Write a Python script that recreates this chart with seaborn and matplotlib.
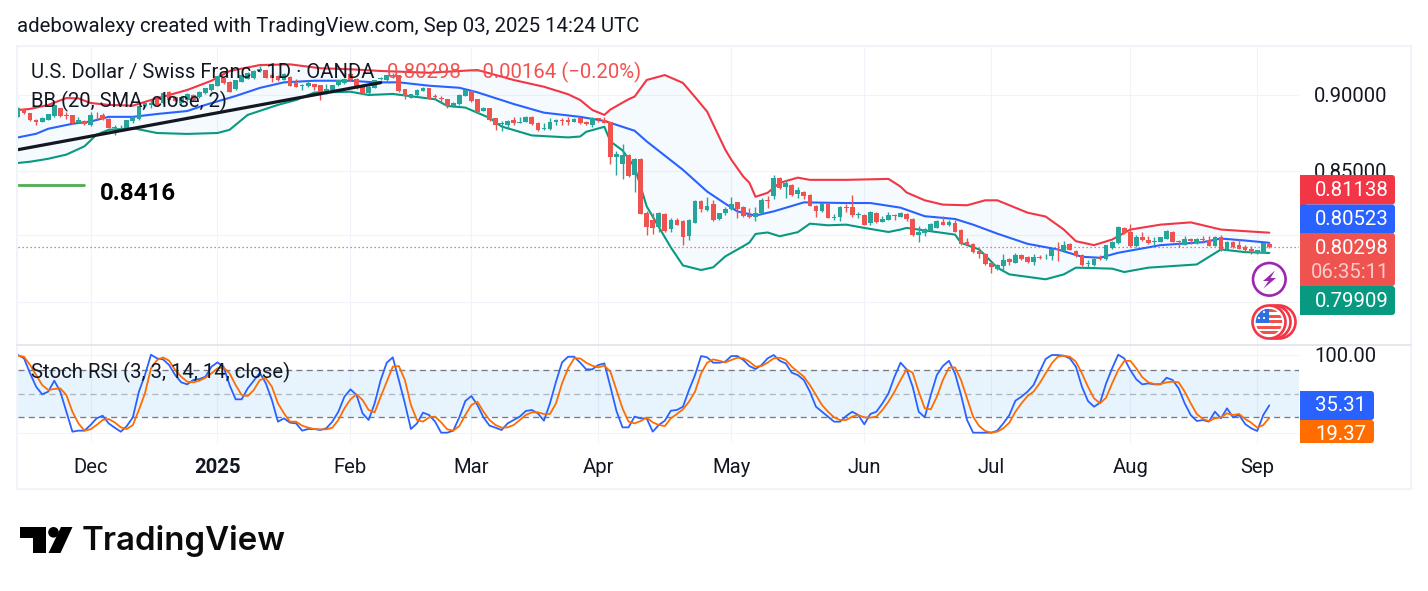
import numpy as np
import pandas as pd
import matplotlib
matplotlib.use("Agg")
import matplotlib.pyplot as plt
from matplotlib.patches import Rectangle, FancyBboxPatch, Circle, Polygon
from matplotlib.ticker import NullFormatter, NullLocator
import seaborn as sns

# Daily USD/CHF candles
opens = [
    .8854, .8905, .8876, .8834, .8820, .8835, .8858, .8910, .8866, .8865,
    .8813, .8827, .8797, .8860, .8867, .8842, .8779, .8775, .8775, .8824,
    .8842, .8925, .8930, .8971, .8944, .9022, .8989, .8944, .8966, .9000,
    .8984, .9011, .9034, .9063, .9119, .9090, .9038, .9090, .9112, .9117,
    .9164, .9169, .9135, .9130, .9105, .9124, .9079, .9063, .9063, .9074,
    .9067, .9011, .9034, .9067, .9079, .9146, .9112, .9056, .9011, .9049,
    .9108, .9101, .9130, .9135, .9038, .8982, .9000, .9029, .9045, .8993,
    .8977, .8971, .8925, .8939, .8995, .9027, .8971, .8893, .8911, .8844,
    .8805, .8800, .8833, .8813, .8822, .8853, .8815, .8774, .8771, .8822,
    .8833, .8833, .8822, .8844, .8818, .8796, .8844, .8833, .8818, .8587,
    .8546, .8605, .8475, .8579, .8233, .8192, .8147, .8227, .8137, .8192,
    .8186, .8091, .8176, .8310, .8255, .8291, .8198, .8233, .8259, .8302,
    .8275, .8223, .8213, .8233, .8316, .8338, .8457, .8400, .8411, .8352,
    .8369, .8348, .8281, .8248, .8291, .8207, .8213, .8273, .8271, .8225,
    .8223, .8176, .8238, .8182, .8193, .8223, .8213, .8230, .8199, .8097,
    .8111, .8127, .8145, .8178, .8162, .8176, .8131, .8060, .8046, .8004,
    .7985, .7933, .7893, .7913, .7955, .7933, .7979, .7969, .7935, .7967,
    .7971, .7975, .8012, .8004, .8046, .8004, .7980, .7924, .7916, .7960,
    .7954, .8020, .8050, .8142, .8121, .8034, .8085, .8070, .8058, .8060,
    .8077, .8121, .8064, .8040, .8077, .8050, .8077, .8070, .8034, .8085,
    .8010, .8060, .8040, .8026, .8014, .7988, .7992, .8045,
]
highs = [
    .8921, .8912, .8878, .8836, .8852, .8875, .8936, .8915, .8887, .8868,
    .8849, .8830, .8887, .8887, .8876, .8845, .8797, .8797, .8835, .8858,
    .8932, .8948, .8966, .8975, .9018, .9029, .8995, .8995, .9012, .9005,
    .9027, .9048, .9078, .9132, .9125, .9096, .9105, .9140, .9157, .9168,
    .9196, .9172, .9150, .9135, .9150, .9128, .9112, .9072, .9101, .9078,
    .9070, .9072, .9071, .9105, .9116, .9150, .9116, .9060, .9060, .9105,
    .9121, .9139, .9153, .9139, .9041, .9008, .9038, .9053, .9049, .9004,
    .8993, .8975, .8952, .9004, .9038, .9031, .8975, .8920, .8915, .8848,
    .8826, .8832, .8851, .8855, .8862, .8858, .8820, .8811, .8844, .8837,
    .8844, .8855, .8848, .8851, .8826, .8855, .8846, .8851, .8822, .8631,
    .8674, .8610, .8583, .8583, .8250, .8238, .8244, .8232, .8203, .8203,
    .8190, .8196, .8314, .8314, .8333, .8316, .8237, .8275, .8333, .8306,
    .8279, .8269, .8271, .8327, .8344, .8474, .8464, .8443, .8415, .8400,
    .8373, .8352, .8285, .8300, .8295, .8227, .8279, .8291, .8348, .8244,
    .8228, .8248, .8242, .8217, .8244, .8226, .8244, .8234, .8203, .8152,
    .8141, .8172, .8192, .8217, .8193, .8193, .8135, .8080, .8050, .8020,
    .7989, .7937, .7923, .7983, .7959, .7993, .7983, .7973, .7985, .7979,
    .7985, .8018, .8060, .8066, .8050, .8008, .7984, .7946, .7960, .7980,
    .8040, .8064, .8152, .8146, .8166, .8097, .8117, .8091, .8089, .8089,
    .8131, .8125, .8070, .8091, .8081, .8081, .8091, .8091, .8091, .8097,
    .8064, .8064, .8074, .8036, .8030, .8010, .8054, .8060,
]
lows = [
    .8850, .8875, .8825, .8799, .8816, .8832, .8855, .8855, .8842, .8804,
    .8809, .8800, .8795, .8835, .8831, .8776, .8734, .8759, .8772, .8815,
    .8831, .8920, .8910, .8928, .8940, .8960, .8958, .8938, .8960, .8960,
    .8980, .9006, .9030, .9060, .9075, .9018, .9034, .9086, .9108, .9112,
    .9160, .9114, .9090, .9098, .9100, .9060, .9052, .9034, .9056, .9034,
    .8966, .9007, .9030, .9063, .9075, .9098, .9041, .9007, .9007, .9045,
    .9102, .9097, .9117, .9023, .8973, .8978, .8996, .9025, .8970, .8973,
    .8955, .8914, .8921, .8935, .8991, .8950, .8876, .8889, .8826, .8767,
    .8761, .8774, .8800, .8809, .8818, .8800, .8760, .8767, .8763, .8800,
    .8800, .8800, .8818, .8807, .8800, .8783, .8818, .8811, .8546, .8475,
    .8450, .8458, .8363, .8227, .8100, .8105, .8121, .8121, .8121, .8158,
    .8040, .8071, .8172, .8240, .8250, .8188, .8194, .8223, .8255, .8207,
    .8213, .8207, .8188, .8227, .8265, .8321, .8386, .8327, .8344, .8331,
    .8321, .8277, .8213, .8244, .8203, .8192, .8186, .8244, .8213, .8203,
    .8158, .8162, .8174, .8178, .8189, .8193, .8209, .8187, .8093, .8060,
    .8094, .8123, .8141, .8158, .8152, .8115, .8040, .8036, .7991, .7959,
    .7921, .7874, .7889, .7889, .7919, .7929, .7949, .7933, .7919, .7953,
    .7955, .7949, .7945, .7995, .8006, .7966, .7912, .7904, .7912, .7946,
    .7946, .8016, .8046, .8107, .8026, .8026, .8064, .8044, .8040, .8056,
    .8073, .8056, .8026, .8036, .8044, .8046, .8050, .8030, .8030, .8004,
    .8006, .8022, .8012, .7996, .7986, .7985, .7990, .8020,
]
closes = [
    .8910, .8880, .8831, .8820, .8847, .8871, .8932, .8858, .8862, .8813,
    .8831, .8804, .8865, .8857, .8842, .8779, .8786, .8781, .8831, .8849,
    .8925, .8944, .8948, .8932, .9015, .8966, .8962, .8989, .9007, .8966,
    .9022, .9045, .9074, .9128, .9079, .9022, .9101, .9135, .9153, .9164,
    .9180, .9117, .9119, .9101, .9146, .9063, .9056, .9067, .9079, .9052,
    .9011, .9038, .9067, .9101, .9112, .9101, .9045, .9011, .9056, .9101,
    .9117, .9135, .9139, .9027, .8993, .9004, .9034, .9049, .8973, .8986,
    .8971, .8925, .8948, .9000, .9034, .8959, .8887, .8915, .8833, .8796,
    .8811, .8826, .8815, .8818, .8851, .8807, .8763, .8778, .8818, .8833,
    .8828, .8822, .8840, .8815, .8807, .8844, .8840, .8815, .8587, .8612,
    .8605, .8469, .8579, .8229, .8146, .8145, .8233, .8125, .8192, .8162,
    .8085, .8192, .8310, .8261, .8281, .8192, .8233, .8261, .8291, .8261,
    .8217, .8213, .8233, .8316, .8310, .8453, .8390, .8426, .8348, .8379,
    .8344, .8281, .8250, .8296, .8207, .8213, .8275, .8269, .8223, .8229,
    .8162, .8244, .8178, .8199, .8223, .8217, .8234, .8197, .8097, .8115,
    .8137, .8168, .8188, .8162, .8182, .8121, .8046, .8040, .7995, .7983,
    .7925, .7905, .7919, .7949, .7935, .7979, .7953, .7937, .7969, .7963,
    .7975, .8014, .8008, .8040, .8010, .7970, .7916, .7930, .7956, .7954,
    .8036, .8060, .8148, .8111, .8030, .8085, .8070, .8050, .8062, .8085,
    .8125, .8060, .8056, .8077, .8064, .8077, .8070, .8034, .8087, .8010,
    .8060, .8026, .8016, .8010, .8004, .8006, .8050, .80298,
]

# Bollinger Bands (20, SMA, close, 2), listed at the bars where the line bends
upper_bars = [0, 2, 5, 8, 10, 12, 15, 19, 22, 28, 32, 35, 40, 45, 50, 55, 60, 68, 76, 82,
              87, 91, 93, 95, 97, 98, 101, 102, 104, 107, 110, 112, 114, 117, 118, 120,
              121, 122, 124, 126, 129, 131, 137, 144, 146, 147, 150, 153, 157, 160, 162,
              167, 170, 173, 175, 178, 181, 184, 189, 194, 199, 203, 207]
upper_band = [.8899, .8906, .8933, .8979, .8977, .8946, .8933, .8928, .8966, .9034, .9097,
              .9164, .9205, .9210, .9183, .9176, .9164, .9152, .9171, .9102,
              .9056, .9005, .8966, .8899, .8866, .8902, .8971, .8989, .9102, .9136, .9082,
              .8986, .8888, .8637, .8572, .8463,
              .8424, .8336, .8361, .8424, .8457, .8443, .8443, .8449, .8400, .8363, .8314,
              .8287, .8283, .8314, .8314,
              .8237, .8213, .8133, .8062, .8038, .8072, .8133, .8163, .8177, .8133, .8123, .81138]

middle_bars = [0, 3, 5, 9, 12, 15, 19, 23, 28, 31, 36, 40, 44, 49, 55, 59, 63, 68, 73, 76,
               82, 87, 93, 97, 102, 104, 110, 114, 117, 119, 122, 125, 130, 137, 141, 146,
               150, 155, 158, 162, 167, 172, 176, 179, 182, 189, 196, 199, 203, 207]
middle_band = [.8717, .8741, .8774, .8807, .8822, .8853, .8853, .8872, .8892, .8933, .8993,
               .9048, .9086, .9097, .9097, .9086, .9086, .9063, .9049, .9018,
               .8939, .8881, .8853, .8826, .8761, .8691, .8507, .8369, .8293, .8245, .8219,
               .8245, .8301, .8297, .8297, .8268,
               .8215, .8198, .8163, .8108, .8046, .8012, .7968, .7962, .7992, .8038, .8056,
               .8078, .8066, .80523]

lower_bars = [0, 2, 5, 8, 11, 13, 15, 19, 23, 28, 33, 35, 38, 43, 46, 49, 55, 58, 62, 69,
              71, 74, 78, 80, 85, 91, 93, 94, 97, 98, 100, 102, 104, 108, 110, 113, 115,
              117, 120, 121, 122, 124, 126, 129, 131, 134, 137, 140, 144, 146, 147, 155,
              156, 159, 162, 164, 170, 173, 175, 181, 183, 187, 195, 199, 203, 207]
lower_band = [.8551, .8559, .8578, .8605, .8659, .8735, .8767, .8778, .8746, .8740, .8746,
              .8767, .8866, .8933, .8966, .9016, .9022, .9000, .9007, .8971,
              .8926, .8915, .8846, .8789, .8730, .8717, .8723, .8754, .8787, .8691, .8632,
              .8526, .8276, .8024, .7916, .7889, .7905,
              .7970, .8032, .8054, .8106, .8115, .8092, .8117, .8169, .8159, .8163, .8143,
              .8118, .8133, .8143, .8102,
              .8052, .8012, .7903, .7863, .7834, .7863, .7903, .7897, .7877, .7903, .7922,
              .8012, .7996, .79909]

# Stochastic RSI (3, 3, 14, 14, close)
stoch_k = [
    99.6, 95.3, 76.2, 59.1, 49.4, 52.8, 66.8, 52.8, 27.2, 1.7,
    3, 3, 10.2, 18.7, 22.1, 12.3, 6.8, 1.7, 8.9, 20,
    52.8, 74, 100, 95.3, 94, 86.8, 74, 64.7, 62.1, 67.7,
    68.9, 71.9, 84.7, 90.2, 84.7, 61.3, 43, 43, 57, 66.8,
    77, 63.4, 42.1, 14.5, 18.7, 13.2, 12.3, 3, 5.1, 5.1,
    3.8, 6, 14.5, 27.2, 46.4, 55.7, 48.5, 25.1, 16.6, 37.9,
    67.7, 89.8, 96.6, 67.7, 37.9, 5.1, 12.3, 26, 23, 14.5,
    .4, .4, 3, 20, 40.9, 47.2, 35.7,
    20, 9.4, 6.8, 3.8, 12.3, 16.6, 20.9, 28.1, 29.4, 25.1,
    15.7, 37.9, 65.5, 90.2, 97.4, 97.4, 89.8, 81.3, 81.3, 86.8,
    88.9, 59.1, 28.1, 7.2, 7.2, 20.9, 18.7, 18.7, 1.7, 10.2,
    15.7, 28.5, 29.4, 33.6, 54.9, 74, 98.3, 96.6, 89.8, 89.8,
    91.1, 98.3, 98.3, 93.2, 85.5, 81.7, 86.8, 95.3, 99.6, 92.3,
    88.9, 77, 74, 67.7, 52.8, 33.6, 27.2, 20.9, 14.5, 14.5,
    21.7, 27.2, 23, 11.1, 24.3, 27.2, 37.9, 50.6, 71.9, 89.8,
    81.3, 59.1, 27.2, 20, 48.5, 74, 85.5, 92.3, 76.2, 48.5,
    16.6, .4, .4, .4, .4, 3, 12.3, 23, 41.3, 46.4,
    52.8, 61.3, 78.3, 94.5, 99.6, 99.6, 98.7, 95.3, 84.7, 59.1,
    40.9, 33.6, 38.7, 63.4, 82.6, 100, 95.3, 80.4, 68.5, 62.1,
    63.4, 62.1, 62.1, 70.6, 67.7, 57, 37.9, 23, 15.3, 16.6,
    14.5, 27.2, 18.7, 31.5, 20, 23, 11.5, 6, 2.6, 23, 35.31,
]
stoch_d = [
    98.7, 97.4, 86.8, 74, 61.3, 54.9, 56.2, 57, 48.5, 27.2,
    12.3, 3, 4.7, 10.2, 16.6, 17.9, 13.6, 7.2, 5.1, 10.2,
    29.4, 50.6, 82.6, 93.2, 96.6, 92.3, 80.4, 71.9, 65.5, 64.7,
    66.8, 70.6, 76.2, 82.6, 83.8, 76.2, 61.3, 48.5, 47.2, 54.9,
    67.7, 69.8, 59.1, 37.9, 25.1, 14.5, 14.5, 9.4, 6.8, 5.1,
    4.7, 4.7, 6.8, 16.6, 31.5, 43, 49.4, 42.1, 29.4, 26.4,
    46.4, 65.5, 84.7, 85.5, 67.7, 35.7, 16.6, 14.5, 20, 20.9,
    13.6, 4.7, 3, 8.9, 23, 35.7, 40,
    27.2, 16.6, 10.2, 6.8, 7.2, 10.2, 16.6, 23, 26.4, 26.4,
    24.3, 24.3, 37.9, 63.4, 82.6, 95.3, 95.3, 89.8, 86, 83.8,
    86, 78.3, 54.9, 31.5, 14.5, 12.3, 15.3, 19.6, 13.6, 10.2,
    8.9, 18.7, 24.3, 30.2, 40, 52.8, 76.2, 89.8, 94, 92.3,
    90.2, 93.2, 96.2, 95.3, 91.1, 84.7, 85.5, 89.8, 95.3, 96.2,
    93.2, 84.7, 78.3, 71.9, 61.3, 48.5, 35.7, 27.2, 20, 16.6,
    16.6, 20.9, 23, 20, 19.6, 20.9, 29.4, 40, 52.8, 67.7,
    81.3, 77, 52.8, 31.5, 30.2, 46.4, 67.7, 83.4, 83.8, 67.7,
    44.3, 20.9, 8.9, 2.6, .4, 1.7, 6, 13.2, 27.2, 37.9,
    47.2, 52.8, 63.4, 76.2, 88.9, 97.4, 98.7, 97.4, 91.1, 76.2,
    59.1, 44.3, 37.9, 45.1, 63.4, 80.4, 91.9, 92.3, 82.6, 71.1,
    64.7, 62.6, 62.6, 64.7, 65.5, 64.7, 52.8, 37.9, 24.3, 17.9,
    15.3, 18.7, 20, 25.1, 23, 24.3, 17.9, 13.2, 6.8, 10.2, 19.37,
]

# Axis ticks
month_bars = [12, 33, 55, 75, 96, 118, 140, 161, 184, 205]
month_labels = ["Dec", "2025", "Feb", "Mar", "Apr", "May", "Jun", "Jul", "Aug", "Sep"]
price_ticks = [0.90, 0.85, 0.81, 0.77]
price_tick_labels = ["0.90000", "0.85000", "", ""]

# Drawn objects on the price pane
trend_bars = [0, 60]
trend_prices = [0.8637, 0.9084]
level_bars = [0, 11]
level_prices = [0.8411, 0.8411]
last_price = 0.80298

UP, DOWN = "#26a69a", "#ef5350"
INK, GRID = "#131722", "#f0f3fa"
BB_UP, BB_MID, BB_LOW = "#f23645", "#2962ff", "#089981"
K_COL, D_COL = "#2962ff", "#ff6d00"

sns.set_theme(style="white")
plt.rcParams["font.family"] = ["Roboto", "DejaVu Sans"]

W, H = 1428, 591
fig = plt.figure(figsize=(W / 100, H / 100), dpi=100, facecolor="white")


def pane(left, top, right, bottom):
    return fig.add_axes([left / W, 1 - bottom / H, (right - left) / W, (bottom - top) / H])


BAR_PX = 6.045
x_limits = (0, (1299 - 18) / BAR_PX)

# Price pane
ax = pane(18, 46, 1299, 345)
ax.set_yscale("log")
ax.set_xlim(*x_limits)
ax.set_ylim(0.7456, 0.9338)

bars = np.arange(len(closes))
candles = pd.DataFrame({"bar": bars, "o": opens, "h": highs, "l": lows, "c": closes})
candles["color"] = np.where(candles.c >= candles.o, UP, DOWN)

ax.fill(np.r_[upper_bars, lower_bars[::-1]], np.r_[upper_band, lower_band[::-1]],
        color="#2196f3", alpha=0.045, lw=0, zorder=1)
for xs, ys, col in [(upper_bars, upper_band, BB_UP),
                    (middle_bars, middle_band, BB_MID),
                    (lower_bars, lower_band, BB_LOW)]:
    sns.lineplot(x=xs, y=ys, ax=ax, color=col, lw=1.5, estimator=None, sort=False,
                 legend=False, zorder=3)

ax.vlines(candles.bar, candles.l, candles.h, colors=candles.color, lw=1.0, zorder=4)
ax.bar(candles.bar, (candles.c - candles.o).abs().clip(lower=0.0004),
       bottom=candles[["o", "c"]].min(axis=1), width=0.78,
       color=candles.color, lw=0, zorder=4)

sns.lineplot(x=trend_bars, y=trend_prices, ax=ax, color=INK, lw=2.3, estimator=None,
             legend=False, zorder=5)
sns.lineplot(x=level_bars, y=level_prices, ax=ax, color="#4caf50", lw=2.0, estimator=None,
             legend=False, zorder=5)
ax.axhline(last_price, color=DOWN, lw=0.9, ls=(0, (1, 2.2)), zorder=2)

ax.yaxis.tick_right()
ax.set_yticks(price_ticks)
ax.set_yticklabels(price_tick_labels)
ax.yaxis.set_minor_locator(NullLocator())
ax.yaxis.set_minor_formatter(NullFormatter())
ax.set_xticks(month_bars)
ax.set_xticklabels([])

# Oscillator pane
ax2 = pane(18, 345, 1299, 443)
ax2.set_xlim(*x_limits)
ax2.set_ylim(-12.77, 112.4)
ax2.axhspan(20, 80, color="#2196f3", alpha=0.1, lw=0, zorder=1)
ax2.axhline(80, color="#787b86", lw=0.95, ls=(0, (4.6, 3.2)), zorder=2)
ax2.axhline(50, color="#787b86", lw=0.95, ls=(0, (4.6, 3.2)), alpha=0.5, zorder=2)
ax2.axhline(20, color="#787b86", lw=0.95, ls=(0, (4.6, 3.2)), zorder=2)
sns.lineplot(x=bars, y=stoch_k, ax=ax2, color=K_COL, lw=1.3, estimator=None, legend=False, zorder=3)
sns.lineplot(x=bars, y=stoch_d, ax=ax2, color=D_COL, lw=1.3, estimator=None, legend=False, zorder=4)

ax2.yaxis.tick_right()
ax2.set_yticks([0, 100])
ax2.set_yticklabels(["", "100.00"])
ax2.set_xticks(month_bars)
ax2.set_xticklabels(month_labels)
ax2.get_xticklabels()[1].set_fontweight("bold")

for a in (ax, ax2):
    a.set_xlabel("")
    a.set_ylabel("")
    a.grid(True, color=GRID, lw=0.8, zorder=0)
    a.set_axisbelow(True)
    for s in a.spines.values():
        s.set_visible(False)
    a.tick_params(axis="y", which="major", length=0, pad=11, labelsize=14.6, labelcolor=INK)
    a.tick_params(axis="x", which="major", length=0, pad=11, labelsize=14.6, labelcolor=INK)
    a.patch.set_alpha(0)

# Overlay in figure pixels for the frame, the scale tags, captions and the wordmark
ov = fig.add_axes([0, 0, 1, 1], zorder=10)
ov.set_xlim(0, W)
ov.set_ylim(H, 0)
ov.axis("off")
ov.patch.set_alpha(0)

ov.add_patch(Rectangle((16.5, 45.5), 1394.5, 443, fill=False, ec=GRID, lw=1.5))
ov.plot([17, 1411], [345, 345], color="#e0e3eb", lw=1.2)

txt = dict(family=["Roboto", "DejaVu Sans"], va="center")
ov.text(17, 26.5, "adebowalexy created with TradingView.com, Sep 03, 2025 14:24 UTC",
        fontsize=14.67, color=INK, **txt)
ov.text(31, 72.5, "U.S. Dollar / Swiss Franc · 1D · OANDA", fontsize=14.6, color=INK, **txt)
ov.text(387, 72.5, "0.80298  −0.00164 (−0.20%)", fontsize=14.65, color=DOWN, **txt)
ov.text(31, 101.5, "BB (20, SMA, close, 2)", fontsize=14.6, color=INK, **txt)
ov.text(31, 372.5, "Stoch RSI (3, 3, 14, 14, close)", fontsize=14.65, color=INK, **txt)
ov.text(100, 193.5, "0.8416", fontsize=17.4, fontweight="bold", color="black", **txt)


def tag(top, bottom, color, right=1397):
    ov.add_patch(FancyBboxPatch((1300, top), right - 1302, bottom - top,
                                boxstyle="round,pad=0,rounding_size=3", fc=color, ec="none"))
    ov.add_patch(Rectangle((1300, top), 6, bottom - top, fc=color, ec="none"))


tag(175, 204.5, BB_UP)
tag(204.5, 233.5, BB_MID)
tag(286, 315, BB_LOW)
tag(233, 286, DOWN)
for y, s, a in [(190.5, "0.81138", 1), (219.5, "0.80523", 1), (248.5, "0.80298", 1),
                (272.5, "06:35:11", 0.7), (301.5, "0.79909", 1)]:
    ov.text(1389, y, s, fontsize=14.7, color="white", alpha=a, ha="right", **txt)

tag(391, 420, K_COL, right=1376)
ov.text(1366, 405.5, "35.31", fontsize=14.7, color="white", ha="right", **txt)
tag(420, 443, D_COL, right=1376)
low_tag = ov.text(1366, 435, "19.37", fontsize=14.7, color="white", ha="right", **txt)
low_tag.set_clip_on(True)
low_tag.set_clip_path(Rectangle((1300, 420), 80, 23, transform=ov.transData))

# Alert badge
ov.add_patch(Circle((1269.3, 279.3), 16.3, fc="white", ec="#9c27b0", lw=1.9))
ov.add_patch(Polygon([(1275, 270.5), (1263, 281), (1268.5, 281), (1263.5, 288.5),
                      (1276, 278), (1270.5, 278)], closed=True, fc="#9c27b0", ec="none"))

# Economic events badge
for dx in (10, 5):
    ov.add_patch(Circle((1269 + dx, 322), 16.5, fc="white", ec=BB_UP, lw=1.9))
ov.add_patch(Circle((1269, 322), 16.5, fc="white", ec=BB_UP, lw=1.9))
clip = Circle((1269, 322), 13.2, transform=ov.transData)
for y0 in (309, 314.5, 320, 325.5, 331):
    ov.add_patch(Rectangle((1254, y0), 30, 3.1, fc="#ef5350", ec="none", clip_path=clip))
ov.add_patch(Rectangle((1254, 308), 15, 15, fc="#2f6fe4", ec="none", clip_path=clip))
for sx, sy in [(1259, 312), (1264, 312), (1259, 318), (1264, 318)]:
    ov.add_patch(Circle((sx, sy), 1.1, fc="white", ec="none", clip_path=clip))

# Wordmark
ov.add_patch(Polygon([(20, 527), (46, 527), (46, 553), (33, 553), (33, 537.5), (20, 537.5)],
                     closed=True, fc="black", ec="none"))
ov.add_patch(Circle((53.5, 532.3), 5.3, fc="black", ec="none"))
ov.add_patch(Polygon([(61, 527), (72.5, 527), (60.5, 553), (48.5, 553)],
                     closed=True, fc="black", ec="none"))
ov.text(82, 541, "TradingView", fontsize=23.8, fontweight="semibold", color="#0b0b0b",
        family=["Inter", "Roboto"], va="center")

fig.savefig("out.png", dpi=100, facecolor="white")
